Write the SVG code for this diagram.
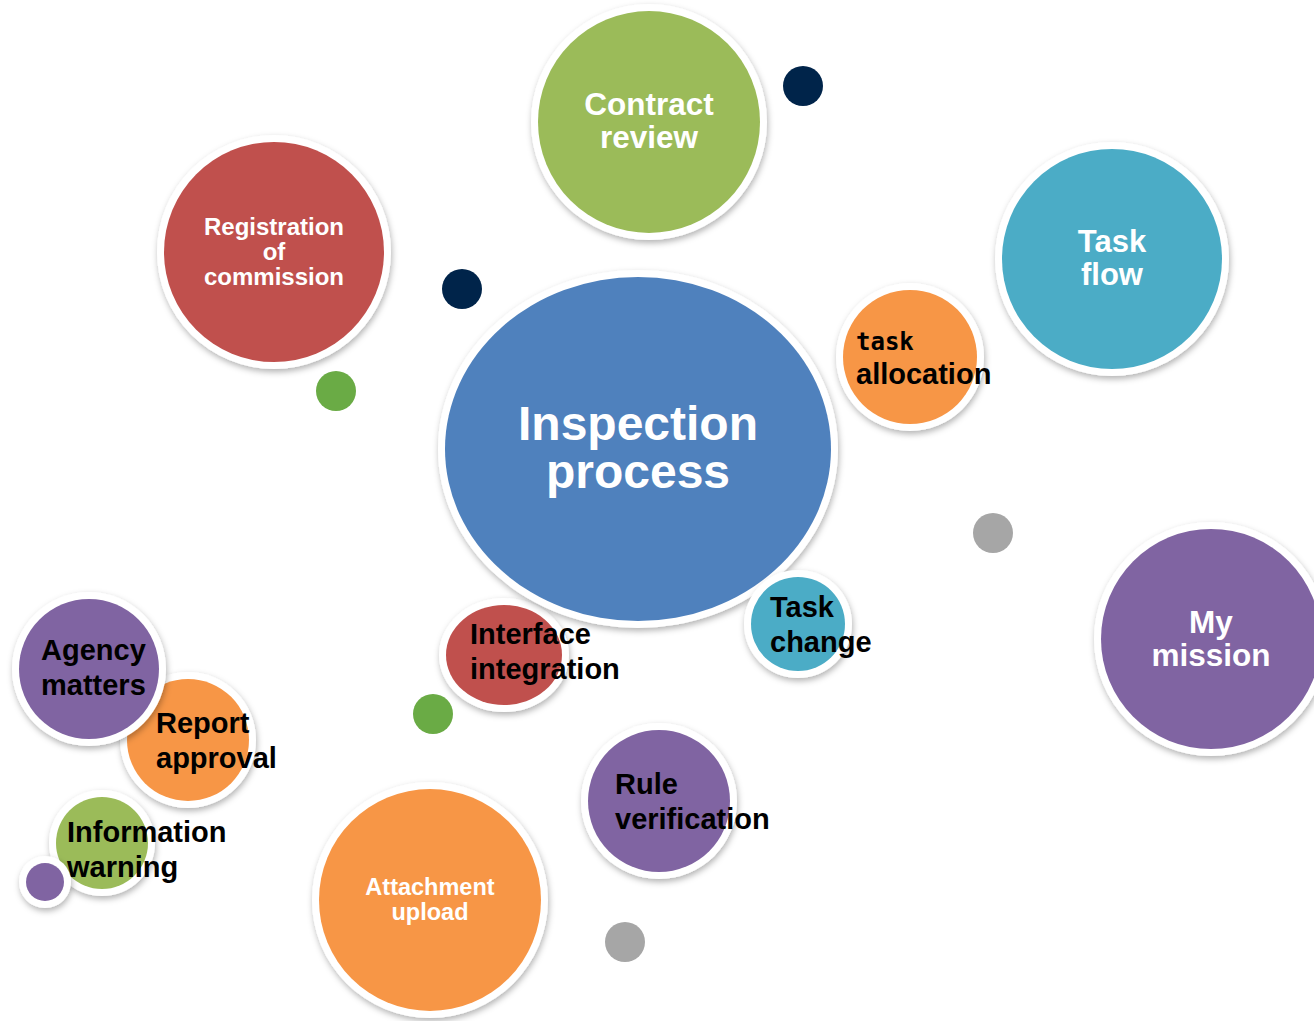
<svg xmlns="http://www.w3.org/2000/svg" width="1314" height="1021" viewBox="0 0 1314 1021">
<defs>
<filter id="sh" x="-20%" y="-20%" width="140%" height="140%">
<feDropShadow dx="1" dy="3" stdDeviation="3" flood-color="#000" flood-opacity="0.3"/>
</filter>
</defs>
<style>
.ring{fill:#fff;filter:url(#sh)}
.green{fill:#9BBB59}.red{fill:#C0504D}.blue{fill:#4F81BD}.teal{fill:#4BACC6}.orange{fill:#F79646}.purple{fill:#8064A2}
.navy{fill:#00244A}.gray{fill:#A6A6A6}.dgreen{fill:#6AAB45}
.w{font-family:"Liberation Sans",Arial,sans-serif;font-weight:bold;fill:#fff;text-anchor:middle}
.k{font-family:"Liberation Sans",Arial,sans-serif;font-weight:bold;fill:#000;font-size:29px}
</style>
<rect width="1314" height="1021" fill="#fff"/>
<g id="connectors"/>
<g id="contract-review">
<circle class="ring" cx="649" cy="122" r="118"/>
<circle class="green" cx="649" cy="122" r="111"/>
<text class="w" font-size="31.5" x="649" y="115">Contract</text>
<text class="w" font-size="31.5" x="649" y="148">review</text>
</g>
<circle id="dot-navy-1" class="navy" cx="803" cy="86" r="20"/>
<g id="registration">
<circle class="ring" cx="274" cy="252" r="117"/>
<circle class="red" cx="274" cy="252" r="110"/>
<text class="w" font-size="24" x="274" y="235">Registration</text>
<text class="w" font-size="24" x="274" y="260">of</text>
<text class="w" font-size="24" x="274" y="285">commission</text>
</g>
<circle id="dot-navy-2" class="navy" cx="462" cy="289" r="20"/>
<circle id="dot-green-1" class="dgreen" cx="336" cy="391" r="20"/>
<g id="task-flow">
<circle class="ring" cx="1112" cy="259" r="117"/>
<circle class="teal" cx="1112" cy="259" r="110"/>
<text class="w" font-size="31" x="1112" y="252">Task</text>
<text class="w" font-size="31" x="1112" y="285">flow</text>
</g>
<g id="interface-integration">
<ellipse class="ring" cx="504" cy="655" rx="65" ry="57"/>
<ellipse class="red" cx="504" cy="655" rx="58" ry="50"/>
<text class="k" x="470" y="644">Interface</text>
<text class="k" x="470" y="679">integration</text>
</g>
<g id="inspection-process">
<ellipse class="ring" cx="638" cy="449" rx="200" ry="179"/>
<ellipse class="blue" cx="638" cy="449" rx="193" ry="172"/>
<text class="w" font-size="48" x="638" y="440">Inspection</text>
<text class="w" font-size="48" x="638" y="488">process</text>
</g>
<g id="task-allocation">
<circle class="ring" cx="910" cy="357" r="74"/>
<circle class="orange" cx="910" cy="357" r="67"/>
<text x="856" y="350" font-family="'DejaVu Sans Mono',monospace" font-weight="bold" font-size="24" fill="#000">task</text>
<text class="k" x="856" y="384">allocation</text>
</g>
<circle id="dot-gray-1" class="gray" cx="993" cy="533" r="20"/>
<g id="my-mission">
<circle class="ring" cx="1211" cy="639" r="117"/>
<circle class="purple" cx="1211" cy="639" r="110"/>
<text class="w" font-size="31.5" x="1211" y="633">My</text>
<text class="w" font-size="31.5" x="1211" y="666">mission</text>
</g>
<g id="task-change">
<circle class="ring" cx="798" cy="624" r="54"/>
<circle class="teal" cx="798" cy="624" r="47"/>
<text class="k" x="770" y="617">Task</text>
<text class="k" x="770" y="652">change</text>
</g>
<circle id="dot-green-2" class="dgreen" cx="433" cy="714" r="20"/>
<g id="report-approval">
<circle class="ring" cx="188" cy="740" r="68"/>
<circle class="orange" cx="188" cy="740" r="61"/>
<text class="k" x="156" y="733">Report</text>
<text class="k" x="156" y="768">approval</text>
</g>
<g id="agency-matters">
<circle class="ring" cx="89" cy="669" r="77"/>
<circle class="purple" cx="89" cy="669" r="70"/>
<text class="k" x="41" y="660">Agency</text>
<text class="k" x="41" y="695">matters</text>
</g>
<g id="information-warning">
<circle class="ring" cx="102" cy="843" r="53"/>
<circle class="green" cx="102" cy="843" r="46"/>
<text class="k" x="67" y="842">Information</text>
<text class="k" x="67" y="877">warning</text>
</g>
<g id="dot-purple">
<circle class="ring" cx="45" cy="882" r="26"/>
<circle class="purple" cx="45" cy="882" r="19"/>
</g>
<g id="rule-verification">
<circle class="ring" cx="659" cy="801" r="78"/>
<circle class="purple" cx="659" cy="801" r="71"/>
<text class="k" x="615" y="794">Rule</text>
<text class="k" x="615" y="829">verification</text>
</g>
<g id="attachment-upload">
<circle class="ring" cx="430" cy="900" r="118"/>
<circle class="orange" cx="430" cy="900" r="111"/>
<text class="w" font-size="23.5" x="430" y="895">Attachment</text>
<text class="w" font-size="23.5" x="430" y="920">upload</text>
</g>
<circle id="dot-gray-2" class="gray" cx="625" cy="942" r="20"/>
</svg>
